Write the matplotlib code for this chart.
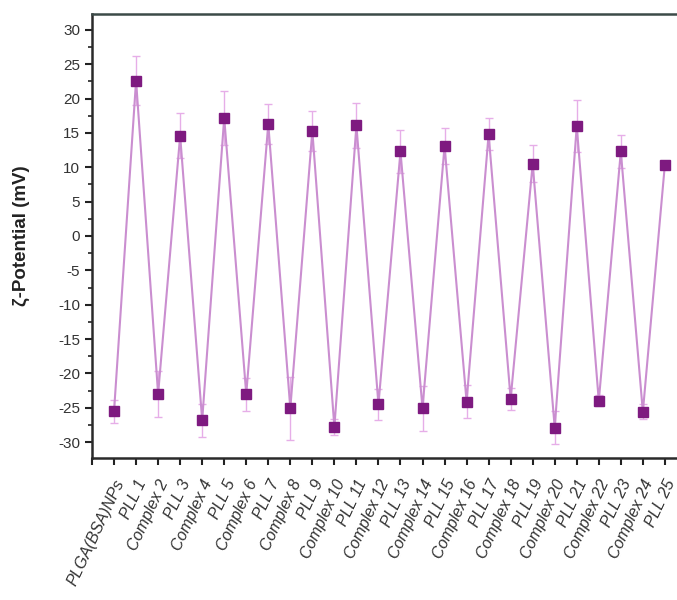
import matplotlib
matplotlib.use("Agg")
import matplotlib.pyplot as plt
from matplotlib.ticker import MultipleLocator
import numpy as np

plt.rcParams['font.family'] = ['Liberation Sans', 'DejaVu Sans']
plt.rcParams['axes.unicode_minus'] = False

samples = ["PLGA(BSA)NPs", "PLL 1", "Complex 2", "PLL 3", "Complex 4", "PLL 5",
           "Complex 6", "PLL 7", "Complex 8", "PLL 9", "Complex 10", "PLL 11",
           "Complex 12", "PLL 13", "Complex 14", "PLL 15", "Complex 16", "PLL 17",
           "Complex 18", "PLL 19", "Complex 20", "PLL 21", "Complex 22", "PLL 23",
           "Complex 24", "PLL 25"]
zeta = [-25.5, 22.6, -23.0, 14.6, -26.8, 17.2, -23.0, 16.3, -25.1, 15.3,
        -27.8, 16.1, -24.5, 12.3, -25.1, 13.1, -24.1, 14.8, -23.7, 10.5,
        -27.9, 16.0, -24.0, 12.3, -25.6, 10.4]
zeta_sd = [1.7, 3.6, 3.4, 3.3, 2.4, 3.9, 2.4, 2.9, 4.6, 2.9,
           1.2, 3.3, 2.3, 3.1, 3.3, 2.6, 2.4, 2.3, 1.6, 2.7,
           2.4, 3.8, 0.8, 2.4, 1.1, 0.3]

x = np.arange(1, len(samples) + 1)

fig = plt.figure(figsize=(6.77, 6.0), dpi=100)
ax = fig.add_axes([0.1359, 0.2367, 0.8641, 0.74])

ax.errorbar(x, zeta, yerr=zeta_sd, fmt='none', ecolor='#E6AEE8',
            elinewidth=1.0, capsize=3, capthick=1.0, zorder=2)
ax.plot(x, zeta, color='#CA8ED0', lw=1.5, zorder=3)
ax.plot(x, zeta, linestyle='none', marker='s', ms=7.2,
        mfc='#7E1A80', mec='#7E1A80', zorder=4)

ax.set_xlim(0, 26.55)
ax.set_ylim(-32.3, 32.3)

ax.yaxis.set_major_locator(MultipleLocator(5))
ax.yaxis.set_minor_locator(MultipleLocator(2.5))
ax.set_xticks(np.arange(0, 27))
ax.set_xticklabels([""] + samples, rotation=65, ha='right',
                   rotation_mode='anchor', fontstyle='italic',
                   fontsize=11.5, color='#333333')
for lbl in ax.get_yticklabels():
    lbl.set_fontsize(11)
    lbl.set_color('#333333')

ax.tick_params(axis='both', which='major', direction='out', length=5,
               width=1.5, color='#222222')
ax.tick_params(axis='y', which='minor', direction='out', length=3,
               width=1.2, color='#222222')
ax.tick_params(axis='x', pad=9)

for side in ['left', 'bottom', 'top']:
    ax.spines[side].set_linewidth(1.8)
    ax.spines[side].set_color('#2a2a2a')
ax.spines['top'].set_color('#3c4a48')
ax.spines['right'].set_visible(False)

ax.set_ylabel('ζ-Potential (mV)', fontsize=13.5, fontweight='bold',
              color='#222222', labelpad=20)

fig.savefig('out.png', dpi=100)
